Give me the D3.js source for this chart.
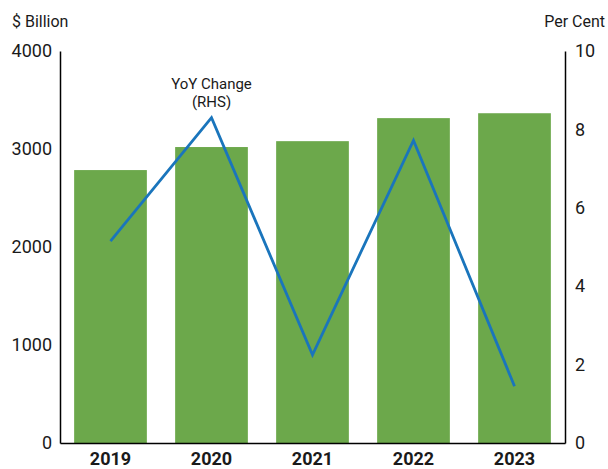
<!DOCTYPE html>
<html>
<head>
<meta charset="utf-8">
<script src="https://cdn.jsdelivr.net/npm/d3@7"></script>
<style>
  body { margin: 0; background: #fff; }
  svg text { font-family: Roboto, "Noto Sans", sans-serif; fill: #1a1a1a; }
</style>
</head>
<body>
<div id="chart"></div>
<script>
// data
var years = ["2019", "2020", "2021", "2022", "2023"];
var valueBillion = [2785, 3020, 3080, 3315, 3365];
var yoyChange = [5.15, 8.3, 2.25, 7.72, 1.45];
var leftTicks = [0, 1000, 2000, 3000, 4000];
var rightTicks = [0, 2, 4, 6, 8, 10];

var W = 608, H = 469;
var margin = {top: 51, right: 43, bottom: 26, left: 60},
    width = W - margin.left - margin.right,
    height = H - margin.top - margin.bottom;

var svg = d3.select("#chart")
    .append("svg")
    .attr("width", W)
    .attr("height", H);

var g = svg.append("g")
    .attr("transform", "translate(" + margin.left + "," + margin.top + ")");

var x = d3.scaleBand()
    .domain(years)
    .range([0, width])
    .paddingInner(0.28)
    .paddingOuter(0.14);

var yL = d3.scaleLinear().domain([0, 4000]).range([height, 0]);
var yR = d3.scaleLinear().domain([0, 10]).range([height, 0]);

var data = years.map(function(y, i) {
    return {year: y, value: valueBillion[i], yoy: yoyChange[i]};
});

// bars
g.selectAll(".bar")
    .data(data)
  .enter().append("rect")
    .attr("class", "bar")
    .attr("x", function(d) { return x(d.year); })
    .attr("y", function(d) { return yL(d.value); })
    .attr("width", x.bandwidth())
    .attr("height", function(d) { return height - yL(d.value); })
    .style("fill", "#6ca84b");

// line
var line = d3.line()
    .x(function(d) { return x(d.year) + x.bandwidth() / 2; })
    .y(function(d) { return yR(d.yoy); });

g.append("path")
    .datum(data)
    .attr("d", line)
    .style("fill", "none")
    .style("stroke", "#1a75bc")
    .style("stroke-width", 2.8);

// axes
var leftAxis = g.append("g")
    .call(d3.axisLeft(yL).tickValues(leftTicks).tickSize(0).tickPadding(8).tickFormat(d3.format("d")));
leftAxis.select(".domain").attr("stroke", "#000").attr("stroke-width", 1.5);
leftAxis.selectAll("text").style("font-size", "18px");

var rightAxis = g.append("g")
    .attr("transform", "translate(" + width + ",0)")
    .call(d3.axisRight(yR).tickValues(rightTicks).tickSize(0).tickPadding(10));
rightAxis.select(".domain").attr("stroke", "#000").attr("stroke-width", 1.5);
rightAxis.selectAll("text").style("font-size", "18px");

var bottomAxis = g.append("g")
    .attr("transform", "translate(0," + height + ")")
    .call(d3.axisBottom(x).tickSize(0).tickPadding(9));
bottomAxis.select(".domain").attr("stroke", "#000").attr("stroke-width", 1.5);
bottomAxis.selectAll("text").style("font-size", "18px").style("font-weight", "bold");

// titles
svg.append("text")
    .attr("x", 12)
    .attr("y", 27)
    .style("font-size", "16px")
    .text("$ Billion");

svg.append("text")
    .attr("x", 605)
    .attr("y", 27)
    .attr("text-anchor", "end")
    .style("font-size", "16px")
    .text("Per Cent");

// line label
var lbl = g.append("text")
    .attr("x", x("2020") + x.bandwidth() / 2)
    .attr("y", 38)
    .attr("text-anchor", "middle")
    .style("font-size", "15px");
lbl.append("tspan").text("YoY Change");
lbl.append("tspan").attr("x", x("2020") + x.bandwidth() / 2).attr("dy", 18).text("(RHS)");
</script>
</body>
</html>
